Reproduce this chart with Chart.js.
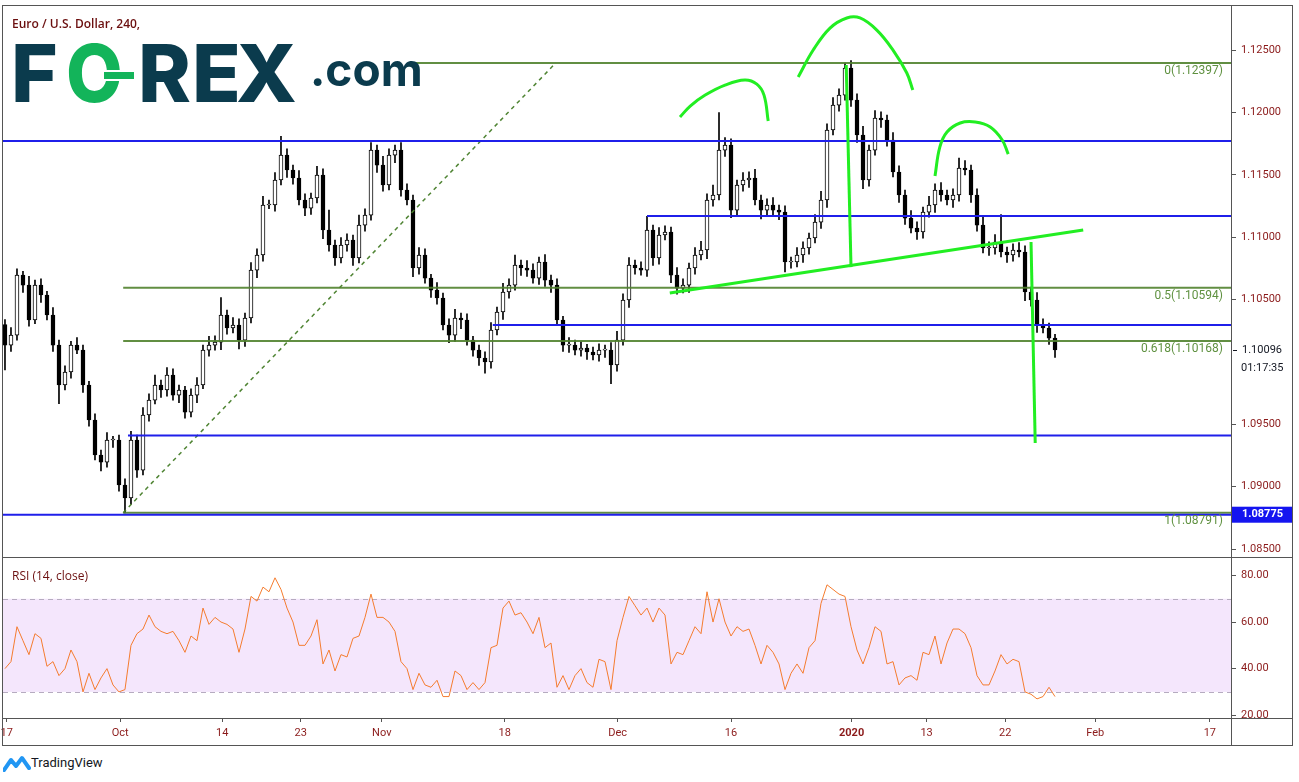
<!DOCTYPE html>
<html>
<head>
<meta charset="utf-8">
<script src="https://cdn.jsdelivr.net/npm/chart.js@4.4.0/dist/chart.umd.min.js"></script>
<style>
  html, body { margin: 0; padding: 0; background: #fff; }
  body { width: 1299px; height: 782px; position: relative; overflow: hidden; font-family: Roboto, "Noto Sans", sans-serif; }
  canvas { position: absolute; left: 0; }
  #price { top: 0; }
  #rsi { top: 558px; }
  .line { position: absolute; background: #555; z-index: 5; }
  .txt { position: absolute; white-space: nowrap; z-index: 6; }
  #logo span { position: absolute; font-family: Inter, "DejaVu Sans", sans-serif; font-weight: 800; color: #0b3b4d; line-height: 80px; font-size: 80px; }
</style>
</head>
<body>
<canvas id="price" width="1299" height="558"></canvas>
<canvas id="rsi" width="1299" height="190"></canvas>

<div class="line" style="left:2px;top:5px;width:1291px;height:1px"></div>
<div class="line" style="left:2px;top:745px;width:1291px;height:1px"></div>
<div class="line" style="left:2px;top:5px;width:1px;height:741px"></div>
<div class="line" style="left:1292px;top:5px;width:1px;height:741px"></div>
<div class="line" style="left:2px;top:557px;width:1291px;height:1px"></div>
<div class="line" style="left:2px;top:718px;width:1291px;height:1px"></div>
<div class="line" style="left:1231px;top:5px;width:1px;height:741px"></div>

<div class="txt" style="left:12px;top:15px;font:600 12px 'Open Sans',sans-serif;color:#6b0f0f">Euro / U.S. Dollar, 240,</div>
<div class="txt" style="left:12px;top:567px;font:12px 'Open Sans',sans-serif;color:#6b0f0f">RSI (14, close)</div>

<div id="logo" class="txt" style="left:0;top:0;width:430px;height:110px">
  <span style="left:11px;top:33px">F</span>
  <span style="left:66px;top:33px;color:#13b45a;transform:scaleX(0.92);transform-origin:left">O</span>
  <span style="left:138px;top:33px">R</span>
  <span style="left:192px;top:33px">E</span>
  <span style="left:236px;top:33px">X</span>
  <span style="left:310px;top:46px;font-size:46px;line-height:46px;font-weight:700">.com</span>
</div>
<div class="txt" style="left:104px;top:70px;width:30px;height:7px;background:#13b45a;border-top:2px solid #fff;border-bottom:2px solid #fff"></div>

<svg class="txt" style="left:3px;top:755px" width="28" height="18" viewBox="0 0 28 18">
  <path d="M1 15 L8 5 L13 11 L19 3 L26 13" fill="none" stroke="#2196f3" stroke-width="4" stroke-linejoin="round" stroke-linecap="round"/>
</svg>
<div class="txt" style="left:31px;top:755px;font:13px Roboto,sans-serif;color:#131722">TradingView</div>

<script>
const firstOpen = 1.1030;
const closes = [
  1.10135, 1.10215, 1.10696, 1.10616, 1.10336, 1.10616, 1.10536, 1.10376, 1.10135, 1.09815,
  1.09919, 1.10135, 1.10095, 1.09815, 1.09534, 1.09254, 1.09197, 1.09374, 1.09374, 1.09013,
  1.08909, 1.09374, 1.09133, 1.09574, 1.09694, 1.09815, 1.09775, 1.09895, 1.09734, 1.09775,
  1.09598, 1.09734, 1.09815, 1.10095, 1.10135, 1.10159, 1.10376, 1.10272, 1.10296, 1.10175,
  1.10352, 1.10736, 1.10857, 1.11258, 1.11258, 1.11458, 1.11658, 1.11538, 1.11474, 1.11298,
  1.11233, 1.11314, 1.11498, 1.11057, 1.10937, 1.10833, 1.10937, 1.10977, 1.10833, 1.11097,
  1.11177, 1.11698, 1.11578, 1.11418, 1.11658, 1.11698, 1.11378, 1.11298, 1.10753, 1.10857,
  1.10672, 1.10576, 1.10512, 1.10296, 1.10215, 1.10352, 1.10336, 1.10175, 1.10095, 1.10031,
  1.09999, 1.10256, 1.10400, 1.10560, 1.10616, 1.10777, 1.10753, 1.10736, 1.10672, 1.10801,
  1.10656, 1.10616, 1.10336, 1.10135, 1.10135, 1.10095, 1.10111, 1.10079, 1.10055, 1.10095,
  1.10095, 1.09975, 1.10175, 1.10496, 1.10777, 1.10753, 1.10736, 1.11057, 1.10833, 1.11017,
  1.11041, 1.10696, 1.10592, 1.10616, 1.10753, 1.10857, 1.10897, 1.11298, 1.11338, 1.11698,
  1.11738, 1.11217, 1.11418, 1.11458, 1.11474, 1.11298, 1.11217, 1.11258, 1.11217, 1.11201,
  1.10801, 1.10801, 1.10857, 1.10913, 1.10993, 1.11121, 1.11298, 1.11859, 1.12059, 1.12139,
  1.12356, 1.12099, 1.11819, 1.11458, 1.11698, 1.11955, 1.11939, 1.11779, 1.11522, 1.11338,
  1.11153, 1.11073, 1.11041, 1.11201, 1.11258, 1.11378, 1.11338, 1.11298, 1.11338, 1.11554,
  1.11538, 1.11338, 1.11097, 1.10913, 1.10913, 1.10961, 1.10881, 1.10857, 1.10897, 1.10881,
  1.10560, 1.10496, 1.10296, 1.10272, 1.10191, 1.10096
];
// wick lengths in pips above / below the body
const wickUp = [
  4,6,5,3,7,4,5,3,6,4, 5,3,6,4,3,5,4,6,3,4, 5,7,4,6,5,8,4,6,5,4, 3,5,6,4,7,5,14,4,6,5,
  4,6,5,7,4,6,15,5,4,6, 5,4,7,5,16,4,6,5,4,8, 5,6,4,7,5,4,6,5,4,6, 5,3,6,4,5,7,4,5,3,4,
  5,6,4,7,5,8,4,6,5,4, 6,4,5,3,6,4,5,3,4,5, 4,6,7,5,6,4,5,11,4,6, 5,4,6,5,4,6,7,5,8,30,
  6,5,4,6,5,7,4,5,6,4, 5,4,6,5,4,6,7,5,6,5, 4,6,5,7,4,6,5,4,6,5, 4,6,5,4,7,5,6,4,5,8,
  6,4,5,7,5,6,22,4,5,6, 5,4,6,5,4,3
];
const wickDown = [
  20,5,4,6,5,3,6,4,5,15, 4,5,3,6,5,4,7,4,6,5, 12,5,6,4,5,3,6,5,4,6, 5,4,6,3,5,4,6,5,4,7,
  5,4,6,5,3,5,4,6,5,4, 6,5,4,7,5,6,4,5,6,4, 5,4,6,5,4,6,5,4,7,5, 4,6,5,4,6,5,7,4,5,6,
  9,5,4,6,5,4,6,5,4,5, 5,6,4,5,6,4,5,6,4,5, 6,15,5,4,6,5,4,5,6,5, 4,6,5,4,6,5,4,7,5,4,
  5,6,4,5,6,4,7,5,4,6, 8,5,4,6,5,4,5,6,4,5, 4,5,6,7,5,4,6,5,4,6, 5,4,6,5,4,6,5,4,6,5,
  4,6,5,4,6,5,4,6,5,4, 7,5,6,4,5,6
];
const rsiValues = [
  40,43,58,52,46,55,53,41,43,37, 40,48,43,30,38,31,36,40,33,30, 31,50,55,57,63,58,56,55,56,52,
  47,54,52,66,59,62,60,59,57,47, 57,71,69,75,73,79,74,66,60,50, 50,54,61,42,48,39,46,45,53,54,
  62,72,62,62,60,56,43,40,31,38, 33,32,35,28,28,39,37,31,34,31, 34,49,50,66,69,63,64,60,55,62,
  49,51,32,37,31,37,40,34,32,44, 43,31,52,62,71,67,63,66,60,66, 63,42,47,46,52,58,55,73,60,70,
  60,54,58,56,57,50,42,50,47,42, 31,38,42,38,49,52,68,76,74,72, 71,58,48,42,49,58,56,42,43,33,
  36,37,35,47,46,54,42,51,57,57, 55,49,37,33,33,39,46,42,44,43, 30,29,27,28,32,28
];

const timeTickPos = [0.3, 19.2, 36.2, 49.3, 62.8, 83.3, 102.1, 121, 141.1, 153.6, 166.7, 181.7, 200.8];
const timeTickLabels = ["17", "Oct", "14", "23", "Nov", "18", "Dec", "16", "2020", "13", "22", "Feb", "17"];
const priceTicks = [1.085, 1.09, 1.095, 1.105, 1.11, 1.115, 1.12, 1.125];
const rsiTicks = [20, 40, 60, 80];
const rsiBand = [30, 70];
const xRange = [-0.33, 204.33];
const priceRange = [1.08428, 1.12853];
const rsiRange = [18.8, 87.5];

// drawings on the chart
const fibLevels = ["0", "0.5", "0.618", "1"];
const fibPrices = [1.12397, 1.10594, 1.10168, 1.08791];
const fibStart = [68.3, 19.7, 19.7, 19.7];
const blueLevels = [1.11771, 1.11169, 1.10296, 1.0941, 1.08775];
const blueStart = [-0.33, 107, 81.3, 20.5, -0.33];
const fibTrend = [[19.7, 1.08791], [91.8, 1.12397]];
const leftShoulder = [[112.5, 1.11963], [114.2, 1.12051], [116.7, 1.12139], [120, 1.12219], [123.3, 1.1226], [125.3, 1.12227], [126.5, 1.12139], [127.2, 1.11931]];
const headArc = [[132.2, 1.12284], [134.7, 1.125], [137.5, 1.12676], [140.3, 1.12757], [142.5, 1.12757], [145.3, 1.1266], [148, 1.125], [150.3, 1.12316], [151.3, 1.12179]];
const rightShoulder = [[155, 1.1149], [155.8, 1.11722], [157, 1.11843], [159.2, 1.11915], [161.7, 1.11923], [164.2, 1.11883], [166.2, 1.11779], [167.2, 1.11666]];
const neckline = [[110.8, 1.10552], [179.7, 1.11057]];
const headDrop = [[140.2, 1.1238], [141, 1.1076]];
const targetDrop = [[171, 1.10961], [171.7, 1.0935]];
const countdown = "01:17:35";

const AXIS_RED = "#8b1a1a";
const FIB_GREEN = "rgba(80,130,45,0.9)";
const LIME = "#22ee22";
const BLUE = "#1f1fea";

const opens = closes.map((c, i) => i === 0 ? firstOpen : closes[i - 1]);
const highs = closes.map((c, i) => Math.max(opens[i], c) + wickUp[i] / 10000);
const lows = closes.map((c, i) => Math.min(opens[i], c) - wickDown[i] / 10000);

const pts = arr => arr.map(p => ({ x: p[0], y: p[1] }));
function lineSet(data, color, width, extra) {
  return Object.assign({ type: "line", data: data, borderColor: color, borderWidth: width, pointRadius: 0, fill: false, order: 1 }, extra || {});
}

const datasets = [
  { type: "bar", data: closes.map((c, i) => ({ x: i, y: [lows[i], highs[i]] })), backgroundColor: "#000", barThickness: 1, grouped: false, order: 11 },
  { type: "bar", data: closes.map((c, i) => ({ x: i, y: [opens[i], c] })),
    backgroundColor: closes.map((c, i) => c >= opens[i] ? "#fff" : "#000"),
    borderColor: "#000", borderWidth: 1, borderSkipped: false, barThickness: 4, minBarLength: 1, grouped: false, order: 10 }
];
fibPrices.forEach((p, i) => datasets.push(lineSet([{ x: fibStart[i], y: p }, { x: xRange[1], y: p }], FIB_GREEN, 2, { order: 3 })));
blueLevels.forEach((p, i) => datasets.push(lineSet([{ x: blueStart[i], y: p }, { x: xRange[1], y: p }], BLUE, 2, { order: 2 })));
datasets.push(lineSet(pts(fibTrend), "rgba(70,125,40,0.95)", 1.5, { borderDash: [4, 4], order: 3 }));
[leftShoulder, headArc, rightShoulder].forEach(a => datasets.push(lineSet(pts(a), LIME, 3, { tension: 0.4 })));
[neckline, headDrop, targetDrop].forEach(a => datasets.push(lineSet(pts(a), LIME, 3)));

// text labels that belong to the price pane
const priceLabels = {
  id: "priceLabels",
  afterDatasetsDraw(chart) {
    const ctx = chart.ctx, y = chart.scales.y, area = chart.chartArea;
    ctx.save();
    ctx.font = "12px Roboto, sans-serif";
    ctx.fillStyle = "#5f9140";
    ctx.textAlign = "right";
    ctx.textBaseline = "middle";
    fibPrices.forEach((p, i) => {
      ctx.fillText(fibLevels[i] + "(" + p.toFixed(5) + ")", area.right - 8, y.getPixelForValue(p) + 8);
    });
    // last price + countdown
    const last = closes[closes.length - 1];
    const ly = y.getPixelForValue(last);
    ctx.textAlign = "left";
    ctx.font = "11px Roboto, sans-serif";
    ctx.fillStyle = "#131722";
    ctx.fillRect(area.right + 2, Math.round(ly), 4, 1);
    ctx.fillText(last.toFixed(5), area.right + 11, ly);
    ctx.fillText(countdown, area.right + 10, ly + 18);
    // blue price box
    const bp = blueLevels[blueLevels.length - 1];
    const by = y.getPixelForValue(bp);
    ctx.fillStyle = "#1414f0";
    ctx.fillRect(area.right + 1, by - 8, 60, 16);
    ctx.fillStyle = "#fff";
    ctx.font = "bold 11px Roboto, sans-serif";
    ctx.fillText(bp.toFixed(5), area.right + 11, by);
    ctx.restore();
  }
};

new Chart(document.getElementById("price"), {
  type: "bar",
  data: { datasets: datasets },
  options: {
    responsive: false, animation: false, events: [],
    layout: { padding: { left: 3, top: 6, right: 0, bottom: 0 } },
    plugins: { legend: { display: false }, tooltip: { enabled: false } },
    scales: {
      x: { type: "linear", min: xRange[0], max: xRange[1], offset: false, display: false },
      y: {
        type: "linear", position: "right", min: priceRange[0], max: priceRange[1],
        afterBuildTicks: s => { s.ticks = priceTicks.map(v => ({ value: v })); },
        afterFit: s => { s.width = 68; s.paddingTop = 0; s.paddingBottom = 0; },
        grid: { drawOnChartArea: false, drawTicks: true, tickLength: 5, color: "#555" },
        border: { display: false },
        ticks: { color: AXIS_RED, font: { family: "Roboto", size: 11 }, padding: 5, callback: v => v.toFixed(5) }
      }
    }
  },
  plugins: [priceLabels]
});

// RSI band behind the line
const rsiBandPlugin = {
  id: "rsiBand",
  beforeDatasetsDraw(chart) {
    const ctx = chart.ctx, y = chart.scales.y, area = chart.chartArea;
    const top = y.getPixelForValue(rsiBand[1]), bot = y.getPixelForValue(rsiBand[0]);
    ctx.save();
    ctx.fillStyle = "#f4e6fc";
    ctx.fillRect(area.left, top, area.right - area.left, bot - top);
    ctx.strokeStyle = "#b6abc0";
    ctx.lineWidth = 1;
    ctx.setLineDash([5, 4]);
    [top, bot].forEach(py => {
      ctx.beginPath();
      ctx.moveTo(area.left, Math.round(py) + 0.5);
      ctx.lineTo(area.right, Math.round(py) + 0.5);
      ctx.stroke();
    });
    ctx.restore();
  }
};

new Chart(document.getElementById("rsi"), {
  type: "line",
  data: {
    datasets: [{
      data: rsiValues.map((v, i) => ({ x: i, y: v })),
      borderColor: "#f57c2f", borderWidth: 1, pointRadius: 0, fill: false, tension: 0
    }]
  },
  options: {
    responsive: false, animation: false, events: [],
    layout: { padding: { left: 3, top: 0, right: 0, bottom: 0 } },
    plugins: { legend: { display: false }, tooltip: { enabled: false } },
    scales: {
      x: {
        type: "linear", position: "bottom", min: xRange[0], max: xRange[1], offset: false,
        afterBuildTicks: s => { s.ticks = timeTickPos.map(v => ({ value: v })); },
        afterFit: s => { s.height = 30; s.paddingLeft = 0; s.paddingRight = 0; },
        grid: { drawOnChartArea: false, drawTicks: true, tickLength: 4, color: "#555" },
        border: { display: false },
        ticks: {
          autoSkip: false, maxRotation: 0, minRotation: 0, padding: 5, color: AXIS_RED,
          font: c => ({ family: "Roboto", size: 11, weight: timeTickLabels[c.index] === "2020" ? "bold" : "normal" }),
          callback: (v, i) => timeTickLabels[i]
        }
      },
      y: {
        type: "linear", position: "right", min: rsiRange[0], max: rsiRange[1],
        afterBuildTicks: s => { s.ticks = rsiTicks.map(v => ({ value: v })); },
        afterFit: s => { s.width = 68; s.paddingTop = 0; s.paddingBottom = 0; },
        grid: { drawOnChartArea: false, drawTicks: true, tickLength: 5, color: "#555" },
        border: { display: false },
        ticks: { color: AXIS_RED, font: { family: "Roboto", size: 11 }, padding: 5, callback: v => v.toFixed(2) }
      }
    }
  },
  plugins: [rsiBandPlugin]
});
</script>
</body>
</html>
